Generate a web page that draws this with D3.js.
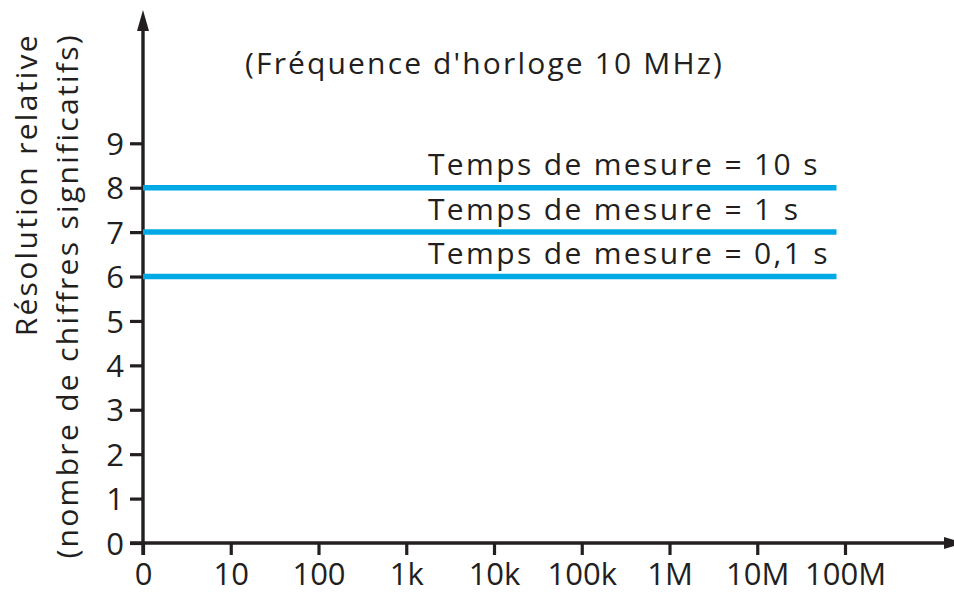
<!DOCTYPE html>
<html lang="fr">
<head>
<meta charset="utf-8">
<script src="https://cdn.jsdelivr.net/npm/d3@7"></script>
<style>
  html, body { margin: 0; padding: 0; background: #fff; }
  svg { display: block; }
  text { font-family: "Open Sans", "Noto Sans", sans-serif; fill: #231f20; }
</style>
</head>
<body>
<svg id="chart" width="954" height="594"></svg>
<script>
// Frequency axis: decades, "0" sits on the first decade (1 Hz)
const freqTicks = [1, 1e1, 1e2, 1e3, 1e4, 1e5, 1e6, 1e7, 1e8];
const freqTickLabels = ["0", "10", "100", "1k", "10k", "100k", "1M", "10M", "100M"];
const digitTicks = [0, 1, 2, 3, 4, 5, 6, 7, 8, 9];

// Resolution (significant digits) for each gate time, flat over the band
const gateLabels = ["Temps de mesure = 10 s", "Temps de mesure = 1 s", "Temps de mesure = 0,1 s"];
const gateDigits = [8, 7, 6];
const freqStart = 1;
const freqEnd = 8e7;

const titleText = "(Fréquence d'horloge 10 MHz)";
const yTitleLines = ["Résolution relative", "(nombre de chiffres significatifs)"];

const svg = d3.select("#chart");
const ink = "#231f20";
const blue = "#00a8e6";

const x = d3.scaleLog().domain([1, 1e8]).range([143, 845]);
const y = d3.scaleLinear().domain([0, 9]).range([543, 143.3]);

// Axes
const xAxis = d3.axisBottom(x)
  .tickValues(freqTicks)
  .tickFormat((d, i) => freqTickLabels[i])
  .tickSize(12).tickPadding(8).tickSizeOuter(0);
const yAxis = d3.axisLeft(y)
  .tickValues(digitTicks)
  .tickFormat(d3.format("d"))
  .tickSize(13).tickPadding(6).tickSizeOuter(0);

const gx = svg.append("g").attr("transform", `translate(0,${y(0)})`).call(xAxis);
const gy = svg.append("g").attr("transform", `translate(${x(1)},0)`).call(yAxis);

[gx, gy].forEach(g => {
  g.select(".domain").remove();
  g.selectAll(".tick line").attr("stroke", ink).attr("stroke-width", 3.2);
  g.selectAll(".tick text")
    .attr("fill", ink)
    .style("font-size", "31px")
    .style("font-family", "'Open Sans', sans-serif");
});
gx.selectAll(".tick text").attr("dy", "0.71em");
gy.selectAll(".tick text").attr("dy", "0.36em");

// Axis lines with arrow heads
const axisLeft = x(1), axisBottom = y(0);
svg.append("line")
  .attr("x1", axisLeft - 13).attr("y1", axisBottom)
  .attr("x2", 944).attr("y2", axisBottom)
  .attr("stroke", ink).attr("stroke-width", 3.4);
svg.append("path")
  .attr("d", `M944,${axisBottom - 6}L964,${axisBottom}L944,${axisBottom + 6}Z`)
  .attr("fill", ink);
svg.append("line")
  .attr("x1", axisLeft).attr("y1", axisBottom + 12)
  .attr("x2", axisLeft).attr("y2", 28)
  .attr("stroke", ink).attr("stroke-width", 3.4);
svg.append("path")
  .attr("d", `M${axisLeft - 6},31L${axisLeft},10L${axisLeft + 6},31Z`)
  .attr("fill", ink);

// Resolution lines
const series = gateDigits.map((v, i) => ({ label: gateLabels[i], value: v }));
const line = d3.line().x(d => x(d[0])).y(d => y(d[1]));

svg.append("g").selectAll("path")
  .data(series)
  .join("path")
  .attr("d", d => line([[freqStart, d.value], [freqEnd, d.value]]))
  .attr("fill", "none")
  .attr("stroke", blue)
  .attr("stroke-width", 5.5);

svg.append("g").selectAll("text")
  .data(series)
  .join("text")
  .attr("x", 428)
  .attr("y", d => y(d.value) - 12.5)
  .style("font-size", "30px")
  .style("letter-spacing", "2.35px")
  .text(d => d.label);

// Title
svg.append("text")
  .attr("x", 245).attr("y", 74)
  .style("font-size", "30px")
  .style("letter-spacing", "2.15px")
  .text(titleText);

// Vertical axis title, two lines ending near the top of the axis
const yTitle = svg.append("g").attr("transform", "translate(0,33) rotate(-90)");
yTitle.selectAll("text")
  .data(yTitleLines)
  .join("text")
  .attr("x", 0)
  .attr("y", (d, i) => i === 0 ? 37 : 78)
  .attr("text-anchor", "end")
  .style("font-size", "30px")
  .style("letter-spacing", "2.3px")
  .text(d => d);
</script>
</body>
</html>
